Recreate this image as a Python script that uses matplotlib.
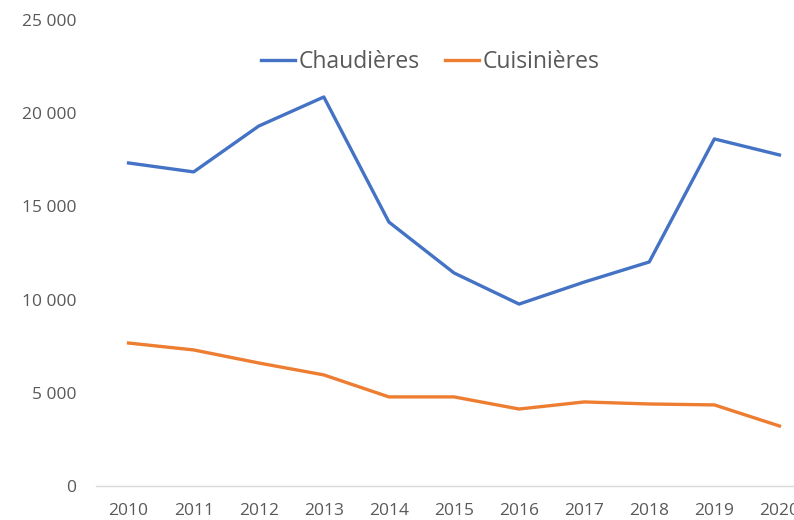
import matplotlib
matplotlib.use("Agg")
import matplotlib.pyplot as plt
from matplotlib.ticker import FuncFormatter, MultipleLocator

years = [2010, 2011, 2012, 2013, 2014, 2015, 2016, 2017, 2018, 2019, 2020]
chaudieres = [17330, 16850, 19310, 20870, 14160, 11430, 9760, 10940, 12020, 18620, 17760]
cuisinieres = [7670, 7300, 6600, 5960, 4780, 4780, 4130, 4510, 4400, 4350, 3220]

plt.rcParams['font.family'] = ['Open Sans', 'DejaVu Sans']

fig = plt.figure(figsize=(7.94, 5.2), dpi=100)
# axes run past the right edge, as in the reference
ax = fig.add_axes([96/794, 34/520, 716/794, 466/520])

ax.plot(years, chaudieres, color="#4472C4", lw=2.4, label="Chaudières", solid_joinstyle="round")
ax.plot(years, cuisinieres, color="#ED7D31", lw=2.4, label="Cuisinières", solid_joinstyle="round")

ax.set_xlim(2009.5, 2020.5)
ax.set_ylim(0, 25000)
ax.set_xticks(years)
ax.yaxis.set_major_locator(MultipleLocator(5000))
ax.yaxis.set_major_formatter(FuncFormatter(lambda v, p: f"{int(v):,}".replace(",", " ")))

for s in ["top", "right", "left"]:
    ax.spines[s].set_visible(False)
ax.spines["bottom"].set_color("#D9D9D9")
ax.spines["bottom"].set_linewidth(1)
ax.tick_params(length=0, colors="#595959", labelsize=12.5)
ax.tick_params(axis="y", pad=14)
ax.tick_params(axis="x", pad=12)

ax.legend(loc="center", bbox_to_anchor=(430/794, 1 - 62/520), bbox_transform=fig.transFigure,
          ncol=2, frameon=False, fontsize=16.5, labelcolor="#595959",
          handlelength=1.5, handletextpad=0.15, columnspacing=1.1)

fig.savefig("out.png", dpi=100)
